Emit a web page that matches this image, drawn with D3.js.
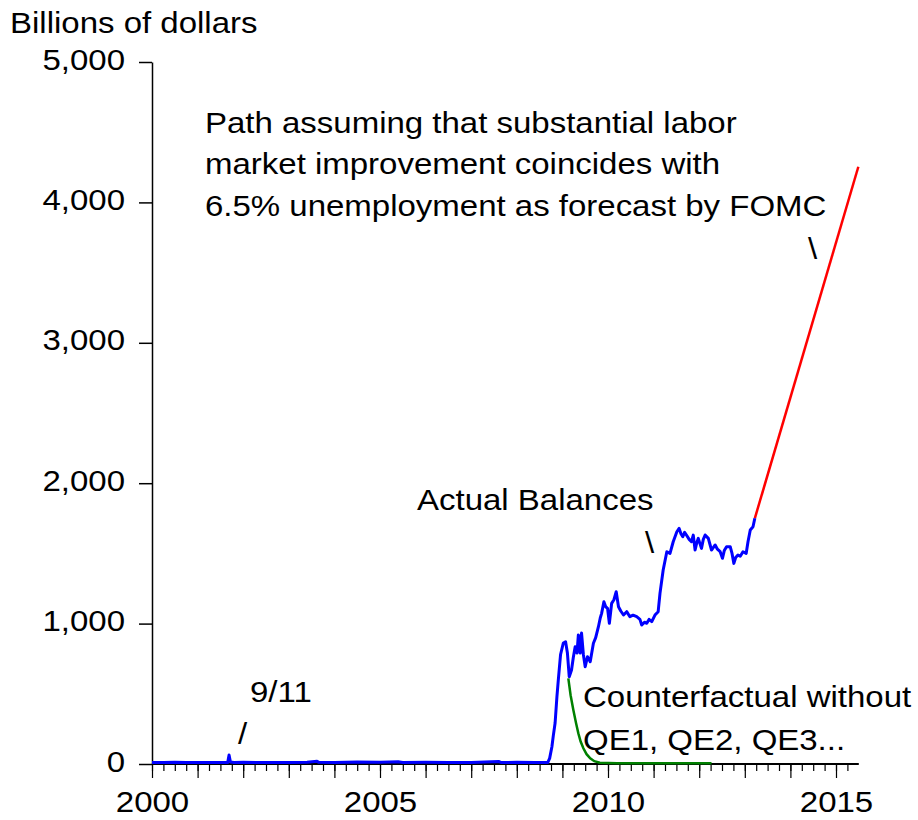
<!DOCTYPE html>
<html>
<head>
<meta charset="utf-8">
<script src="https://cdn.jsdelivr.net/npm/d3@7"></script>
<style>
  html, body { margin: 0; padding: 0; background: #ffffff; }
</style>
</head>
<body>
<script>
// Reserve balances, billions of dollars
const actualBalances = [
  [2000.00, 11], [2000.25, 10], [2000.50, 12], [2000.75, 10], [2001.00, 11],
  [2001.25, 10], [2001.50, 11], [2001.66, 10], [2001.69, 64], [2001.72, 14],
  [2001.80, 11], [2002.00, 12], [2002.50, 10], [2003.00, 11], [2003.40, 12],
  [2003.62, 19], [2003.66, 12], [2004.00, 11], [2004.50, 14], [2005.00, 12],
  [2005.40, 16], [2005.50, 11], [2006.00, 12], [2006.50, 10], [2007.00, 11],
  [2007.60, 18], [2007.65, 11], [2008.00, 12], [2008.40, 10], [2008.68, 11],
  [2008.72, 40], [2008.77, 123], [2008.80, 200], [2008.84, 292], [2008.88, 480],
  [2008.91, 598], [2008.96, 780], [2009.02, 862], [2009.07, 871], [2009.11, 790],
  [2009.15, 622], [2009.20, 670], [2009.24, 760], [2009.28, 835], [2009.32, 790],
  [2009.35, 919], [2009.39, 790], [2009.42, 933], [2009.46, 780], [2009.50, 693],
  [2009.55, 764], [2009.61, 729], [2009.68, 860], [2009.73, 900], [2009.79, 978],
  [2009.83, 1040], [2009.86, 1073], [2009.91, 1156], [2009.95, 1120], [2009.99, 1109],
  [2010.03, 1002], [2010.08, 1144], [2010.13, 1170], [2010.18, 1227], [2010.23, 1120],
  [2010.28, 1090], [2010.34, 1061], [2010.41, 1085], [2010.48, 1049], [2010.55, 1060],
  [2010.63, 1049], [2010.70, 1030], [2010.74, 990], [2010.80, 1010], [2010.85, 1002],
  [2010.90, 1030], [2010.96, 1014], [2011.03, 1061], [2011.10, 1085], [2011.14, 1215],
  [2011.21, 1382], [2011.29, 1512], [2011.36, 1500], [2011.43, 1583], [2011.51, 1654],
  [2011.56, 1678], [2011.60, 1640], [2011.64, 1619], [2011.68, 1650], [2011.72, 1631],
  [2011.78, 1600], [2011.83, 1583], [2011.87, 1630], [2011.91, 1524], [2011.95, 1580],
  [2011.98, 1607], [2012.05, 1536], [2012.09, 1600], [2012.13, 1631], [2012.20, 1607],
  [2012.24, 1560], [2012.27, 1524], [2012.35, 1560], [2012.40, 1530], [2012.46, 1512],
  [2012.51, 1465], [2012.55, 1520], [2012.60, 1548], [2012.68, 1548], [2012.72, 1500],
  [2012.76, 1429], [2012.80, 1470], [2012.85, 1488], [2012.90, 1480], [2012.96, 1512],
  [2013.03, 1500], [2013.07, 1583], [2013.12, 1667], [2013.18, 1690], [2013.22, 1750]
];

// Path assuming labour-market improvement coincides with 6.5% unemployment
const fomcPath = [[2013.22, 1750], [2015.49, 4254]];

// Counterfactual without QE1, QE2, QE3...
const counterfactual = [
  [2009.13, 610], [2009.18, 490], [2009.24, 385], [2009.30, 290], [2009.35, 218],
  [2009.40, 160], [2009.46, 112], [2009.53, 70], [2009.61, 40], [2009.70, 20],
  [2009.82, 9], [2010.20, 6], [2011.00, 6], [2012.27, 6]
];

const yTicks = [0, 1000, 2000, 3000, 4000, 5000];
const yearTicks = d3.range(2000, 2016);
const quarterTicks = d3.range(2000, 2015.3, 0.25);
const labelledYears = [2000, 2005, 2010, 2015];

const FONT = '"Liberation Sans", Arial, Helvetica, sans-serif';
const FS = 30;
const SX = 1.1;

const width = 918, height = 820;

const svg = d3.select('body').append('svg')
  .attr('width', width)
  .attr('height', height)
  .style('background', '#ffffff');

const x = d3.scaleLinear().domain([2000, 2015]).range([152, 836]);
const y = d3.scaleLinear().domain([0, 5000]).range([764, 62]);

// Y axis
const yAxis = svg.append('g')
  .attr('transform', `translate(${x(2000)},0)`)
  .call(d3.axisLeft(y).tickValues(yTicks).tickSize(13).tickSizeOuter(0).tickFormat(d3.format(',')));
yAxis.select('.domain').attr('stroke', '#000').attr('stroke-width', 1.5);
yAxis.selectAll('line').attr('stroke', '#000').attr('stroke-width', 1.5);
yAxis.selectAll('text')
  .attr('x', null).attr('dy', null)
  .attr('transform', `translate(-27,7) scale(${SX},1)`)
  .attr('font-family', FONT).attr('font-size', FS).attr('fill', '#000');

// X axis: quarterly minor ticks, yearly major ticks
const xMinor = svg.append('g')
  .attr('transform', `translate(0,${y(0)})`)
  .call(d3.axisBottom(x).tickValues(quarterTicks).tickSize(7).tickSizeOuter(0).tickFormat(''));
xMinor.select('.domain').remove();
xMinor.selectAll('line').attr('stroke', '#000').attr('stroke-width', 1.2);

const xAxis = svg.append('g')
  .attr('transform', `translate(0,${y(0)})`)
  .call(d3.axisBottom(x).tickValues(yearTicks).tickSize(14).tickSizeOuter(0)
    .tickFormat(d => labelledYears.includes(d) ? String(d) : ''));
xAxis.select('.domain').remove();
xAxis.selectAll('line').attr('stroke', '#000').attr('stroke-width', 1.2);
xAxis.selectAll('text')
  .attr('y', null).attr('dy', null)
  .attr('transform', `translate(0,48) scale(${SX},1)`)
  .attr('font-family', FONT).attr('font-size', FS).attr('fill', '#000');

svg.append('line')
  .attr('x1', x(2000)).attr('x2', x(2015.5))
  .attr('y1', y(0)).attr('y2', y(0))
  .attr('stroke', '#000').attr('stroke-width', 2);

// Series
const line = d3.line().x(d => x(d[0])).y(d => y(d[1]));

svg.append('path').datum(counterfactual)
  .attr('d', line).attr('fill', 'none')
  .attr('stroke', '#008000').attr('stroke-width', 2.5);

svg.append('path').datum(fomcPath)
  .attr('d', line).attr('fill', 'none')
  .attr('stroke', '#ff0000').attr('stroke-width', 2.5);

svg.append('path').datum(actualBalances)
  .attr('d', line).attr('fill', 'none')
  .attr('stroke', '#0000ff').attr('stroke-width', 3)
  .attr('stroke-linejoin', 'round');

// Text labels
function label(px, py, txt) {
  svg.append('text')
    .attr('transform', `translate(${px},${py}) scale(${SX},1)`)
    .attr('font-family', FONT)
    .attr('font-size', FS)
    .attr('fill', '#000')
    .text(txt);
}

label(10, 33, 'Billions of dollars');
label(205, 133, 'Path assuming that substantial labor');
label(205, 174, 'market improvement coincides with');
label(205, 216, '6.5% unemployment as forecast by FOMC');
label(808, 259, '\\');
label(417, 510, 'Actual Balances');
label(645, 553, '\\');
label(250, 702, '9/11');
label(238, 744, '/');
label(583, 707, 'Counterfactual without');
label(583, 750, 'QE1, QE2, QE3...');
</script>
</body>
</html>
